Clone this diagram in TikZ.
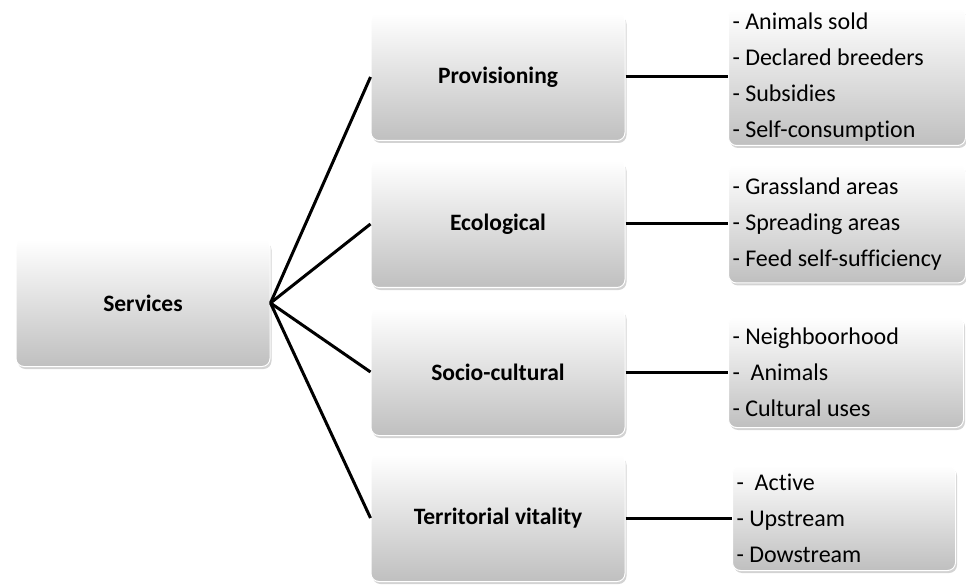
\documentclass[tikz,border=0pt]{standalone}
\usepackage{fontspec}
\setmainfont{Carlito}[Ligatures={NoCommon,NoRare}]
\usetikzlibrary{shadows}

\tikzset{
  box/.style={rounded corners=8pt, draw=white, line width=1pt,
    top color=white, bottom color=black!25,
    drop shadow={opacity=0.35, shadow xshift=1.5pt, shadow yshift=-2.5pt},
    inner sep=0pt},
  catbox/.style={box, minimum width=254pt, minimum height=127pt,
    font=\fontsize{23.5}{27}\selectfont\bfseries},
  listbox/.style={box, anchor=west, align=flush left, inner xsep=4pt,
    font=\fontsize{24}{36}\selectfont},
  link/.style={line width=3pt},
}

\begin{document}
\begin{tikzpicture}[x=1pt,y=-1pt]
  \useasboundingbox (0,0) rectangle (966,585);
  % categories
  \node[catbox] (serv) at (143,303) {Services};
  \node[catbox] (prov) at (498,77) {Provisioning};
  \node[catbox] (eco) at (498,224) {Ecological};
  \node[catbox] (socio) at (498,372) {Socio-cultural};
  \node[catbox] (terr) at (498,518) {Territorial vitality};
  % indicators
  \node[listbox, text width=229pt, minimum height=137pt] (provlist) at (728,77)
    {- Animals sold\\- Declared breeders\\- Subsidies\\- Self-consumption};
  \node[listbox, text width=229pt, minimum height=118pt] (ecolist) at (728,224)
    {- Grassland areas\\- Spreading areas\\- Feed self-sufficiency};
  \node[listbox, text width=227pt, minimum height=111pt] (sociolist) at (728,372)
    {- Neighboorhood\\- \ Animals\\- Cultural uses};
  \node[listbox, text width=215pt, minimum height=105pt] (terrlist) at (732,518)
    {- \ Active\\- Upstream\\- Dowstream};
  % links
  \foreach \c in {prov,eco,socio,terr}
    \draw[link] (serv.east) -- (\c.west);
  \draw[link] (prov.east) -- (provlist.west);
  \draw[link] (eco.east) -- (ecolist.west);
  \draw[link] (socio.east) -- (sociolist.west);
  \draw[link] (terr.east) -- (terrlist.west);
\end{tikzpicture}
\end{document}
